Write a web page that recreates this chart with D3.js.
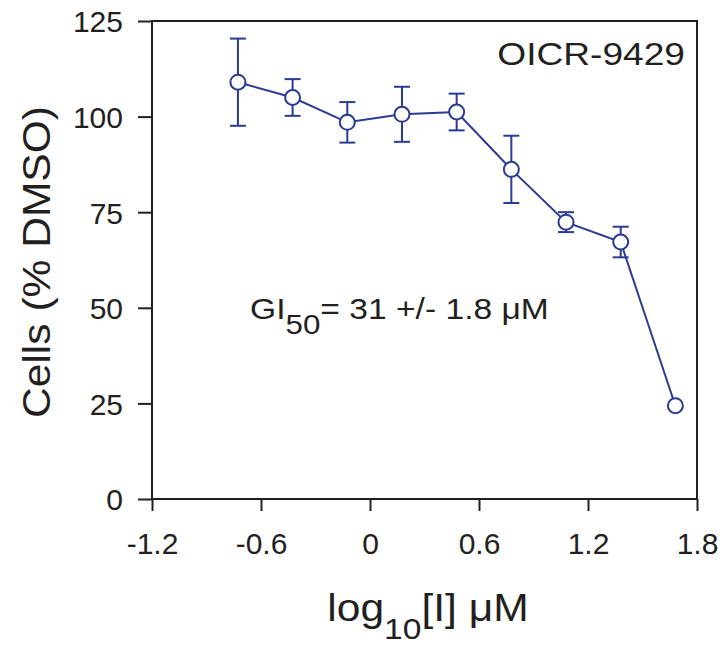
<!DOCTYPE html>
<html>
<head>
<meta charset="utf-8">
<script src="https://cdn.jsdelivr.net/npm/d3@7"></script>
<style>
  body { margin: 0; background: #fff; }
  text { font-family: "Liberation Sans", Arial, Helvetica, sans-serif; fill: #231f20; }
</style>
</head>
<body>
<div id="chart"></div>
<script>
// concentrations: 2-fold dilution from 48 uM, as log10
var logConc = [-0.727, -0.426, -0.125, 0.176, 0.477, 0.778, 1.079, 1.380, 1.681];
var cellsPct = [109.0, 105.0, 98.5, 100.6, 101.2, 86.2, 72.4, 67.2, 24.4];
var cellsErr = [11.4, 4.8, 5.3, 7.2, 4.8, 8.8, 2.6, 4.0, 0];

var xTicks = [-1.2, -0.6, 0, 0.6, 1.2, 1.8];
var yTicks = [0, 25, 50, 75, 100, 125];

var width = 720, height = 651;
var margin = {top: 21, right: 23, bottom: 152, left: 152};
var w = width - margin.left - margin.right;
var h = height - margin.top - margin.bottom;
var blue = "#2b3a93";
var sx = 1.12; // the big labels are a bit wide in the reference

var svg = d3.select("#chart").append("svg")
    .attr("width", width)
    .attr("height", height);

var g = svg.append("g")
    .attr("transform", "translate(" + margin.left + "," + margin.top + ")");

var x = d3.scaleLinear().domain([-1.2, 1.8]).range([0, w]);
var y = d3.scaleLinear().domain([0, 125]).range([h, 0]);

// axes
var xAxis = d3.axisBottom(x).tickValues(xTicks).tickSize(12).tickSizeOuter(0)
    .tickFormat(d => d === 0 ? "0" : (d < 0 ? "-" : "") + Math.abs(d).toFixed(1));
var yAxis = d3.axisLeft(y).tickValues(yTicks).tickSize(14).tickSizeOuter(0);

var gx = g.append("g")
    .attr("transform", "translate(0," + h + ")")
    .call(xAxis);
gx.selectAll("text")
    .attr("y", 44)
    .attr("dy", "0.36em")
    .style("font-size", "30px");

var gy = g.append("g").call(yAxis);
gy.selectAll("text")
    .attr("x", -29)
    .attr("dy", "0.36em")
    .style("font-size", "30px");

[gx, gy].forEach(a => {
    a.select(".domain").remove();
    a.selectAll("line").attr("stroke", "#231f20").attr("stroke-width", 2);
    a.selectAll("text").attr("fill", "#231f20").style("font-family", "Liberation Sans, Arial, sans-serif");
});

// frame
g.append("rect")
    .attr("width", w)
    .attr("height", h)
    .attr("fill", "none")
    .attr("stroke", "#231f20")
    .attr("stroke-width", 2);

// line
var line = d3.line().x((d, i) => x(logConc[i])).y(d => y(d));
g.append("path")
    .datum(cellsPct)
    .attr("d", line)
    .attr("fill", "none")
    .attr("stroke", blue)
    .attr("stroke-width", 2);

// error bars
var bars = g.selectAll(".err")
    .data(cellsPct.map((v, i) => ({x: logConc[i], v: v, e: cellsErr[i]})).filter(d => d.e > 0))
    .enter().append("g")
    .attr("class", "err")
    .attr("stroke", blue)
    .attr("stroke-width", 2);
bars.append("line")
    .attr("x1", d => x(d.x)).attr("x2", d => x(d.x))
    .attr("y1", d => y(d.v + d.e)).attr("y2", d => y(d.v - d.e));
bars.append("line")
    .attr("x1", d => x(d.x) - 8).attr("x2", d => x(d.x) + 8)
    .attr("y1", d => y(d.v + d.e)).attr("y2", d => y(d.v + d.e));
bars.append("line")
    .attr("x1", d => x(d.x) - 8).attr("x2", d => x(d.x) + 8)
    .attr("y1", d => y(d.v - d.e)).attr("y2", d => y(d.v - d.e));

// points
g.selectAll(".pt")
    .data(cellsPct)
    .enter().append("circle")
    .attr("class", "pt")
    .attr("cx", (d, i) => x(logConc[i]))
    .attr("cy", d => y(d))
    .attr("r", 7.5)
    .attr("fill", "#fff")
    .attr("stroke", blue)
    .attr("stroke-width", 2);

// labels
svg.append("text")
    .attr("transform", "translate(685,65) scale(1.16,1)")
    .attr("text-anchor", "end")
    .style("font-size", "32px")
    .text("OICR-9429");

var gi = svg.append("text")
    .attr("transform", "translate(250,319) scale(" + sx + ",1)")
    .style("font-size", "30px");
gi.append("tspan").text("GI");
gi.append("tspan").attr("dy", 15).style("font-size", "28px").text("50");
gi.append("tspan").attr("dy", -15).text("= 31 +/- 1.8 \u03bcM");

svg.append("text")
    .attr("transform", "translate(50,262) rotate(-90) scale(" + sx + ",1)")
    .attr("text-anchor", "middle")
    .style("font-size", "38px")
    .text("Cells (% DMSO)");

var xl = svg.append("text")
    .attr("transform", "translate(428,621) scale(" + sx + ",1)")
    .attr("text-anchor", "middle")
    .style("font-size", "38px");
xl.append("tspan").text("log");
xl.append("tspan").attr("dy", 18).style("font-size", "30px").text("10");
xl.append("tspan").attr("dy", -18).text("[I] \u03bcM");
</script>
</body>
</html>
